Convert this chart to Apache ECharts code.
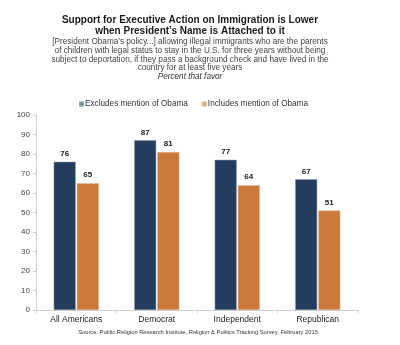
<!DOCTYPE html>
<html><head><meta charset="utf-8">
<script src="https://cdn.jsdelivr.net/npm/echarts@6/dist/echarts.min.js"></script>
<style>html,body{margin:0;padding:0;background:#fff}#c{width:400px;height:345px}</style>
</head><body><div id="c"></div>
<script>
var categories = ['All Americans', 'Democrat', 'Independent', 'Republican'];
var excludesObama = [76, 87, 77, 67];
var includesObama = [65, 81, 64, 51];
var seriesNames = ['Excludes mention of Obama', 'Includes mention of Obama'];
var yTicks = [0, 10, 20, 30, 40, 50, 60, 70, 80, 90, 100];

var F = 'Liberation Sans, Arial, Helvetica, sans-serif';
var chart = echarts.init(document.getElementById('c'));
chart.setOption({
  animation: false,
  title: [
    { text: 'Support for Executive Action on Immigration is Lower\nwhen President\u2019s Name is Attached to it',
      left: 190, top: 15.2, padding: 0, textAlign: 'center',
      textStyle: { fontFamily: F, fontSize: 10, fontWeight: 'bold', color: '#1a1a1a', lineHeight: 10.5 } },
    { text: '[President Obama\u2019s policy...] allowing illegal immigrants who are the parents\nof children with legal status to stay in the U.S. for three years without being\nsubject to deportation, if they pass a background check and have lived in the\ncountry for at least five years',
      left: 190, top: 37.4, padding: 0, textAlign: 'center',
      textStyle: { fontFamily: F, fontSize: 8.2, fontWeight: 'normal', color: '#444', lineHeight: 8.8 } },
    { text: 'Percent that favor',
      left: 190, top: 72.3, padding: 0, textAlign: 'center',
      textStyle: { fontFamily: F, fontSize: 8.2, fontStyle: 'italic', fontWeight: 'normal', color: '#333', lineHeight: 9 } },
    { text: 'Source: Public Religion Research Institute, Religion & Politics Tracking Survey, February 2015',
      left: 198, top: 328.5, padding: 0, textAlign: 'center',
      textStyle: { fontFamily: F, fontSize: 5.75, fontWeight: 'normal', color: '#333', lineHeight: 7 } }
  ],
  legend: {
    data: seriesNames,
    left: 74, top: 95, padding: 5,
    icon: 'rect', itemWidth: 3, itemHeight: 3, itemGap: 14,
    textStyle: { fontFamily: F, fontSize: 8.2, color: '#333', padding: [0, 0, 0, -3] }
  },
  grid: { left: 36, right: 42, top: 115, bottom: 35 },
  xAxis: {
    type: 'category', data: categories,
    axisLine: { lineStyle: { color: '#d0d0d0' } },
    axisTick: { show: true, lineStyle: { color: '#d0d0d0' }, length: 3 },
    axisLabel: { fontFamily: F, fontSize: 8.5, color: '#222', margin: 5 }
  },
  yAxis: {
    type: 'value', min: yTicks[0], max: yTicks[yTicks.length - 1], interval: 10,
    axisLine: { show: true, lineStyle: { color: '#d0d0d0' } },
    axisTick: { show: true, lineStyle: { color: '#d0d0d0' }, length: 3 },
    splitLine: { show: false },
    axisLabel: { fontFamily: F, fontSize: 8, color: '#444', margin: 6 }
  },
  series: [
    { name: seriesNames[0], type: 'bar', data: excludesObama,
      barWidth: 22, barGap: '5%',
      itemStyle: { color: '#243d5f', borderColor: '#8a9ab0', borderWidth: 0.5 },
      label: { show: true, position: 'top', distance: 4, fontFamily: F, fontSize: 8, fontWeight: 'bold', color: '#222' } },
    { name: seriesNames[1], type: 'bar', data: includesObama,
      barWidth: 22,
      itemStyle: { color: '#cc7a3c', borderColor: '#e6b890', borderWidth: 0.5 },
      label: { show: true, position: 'top', distance: 4, fontFamily: F, fontSize: 8, fontWeight: 'bold', color: '#222' } }
  ]
});
</script></body></html>
